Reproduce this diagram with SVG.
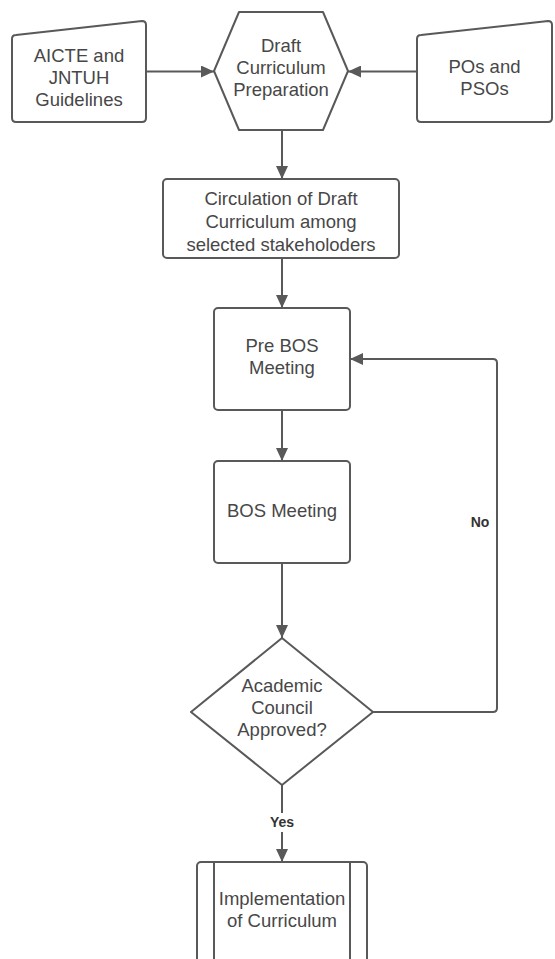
<svg xmlns="http://www.w3.org/2000/svg" width="555" height="959" viewBox="0 0 555 959">
<style>
.n{fill:#fff;stroke:#595959;stroke-width:2;stroke-linejoin:round}
.t{font-family:"Liberation Sans",Arial,sans-serif;font-size:18.5px;fill:#474747;text-anchor:middle}
.l{font-family:"Liberation Sans",Arial,sans-serif;font-size:14px;font-weight:bold;fill:#333;text-anchor:middle}
.c{fill:none;stroke:#595959;stroke-width:2;stroke-linejoin:round}
</style>
<defs>
<marker id="ah" markerUnits="userSpaceOnUse" markerWidth="14" markerHeight="12" refX="13" refY="6" orient="auto">
<path d="M0,0 L13,6 L0,12 Z" fill="#595959"/>
</marker>
</defs>
<rect width="555" height="959" fill="#fff"/>
<g id="connectors">
<path class="c" d="M146,71.5 H214" marker-end="url(#ah)"/>
<path class="c" d="M417,71.5 H348" marker-end="url(#ah)"/>
<path class="c" d="M282,130 V179" marker-end="url(#ah)"/>
<path class="c" d="M282,258 V308" marker-end="url(#ah)"/>
<path class="c" d="M282,410 V461" marker-end="url(#ah)"/>
<path class="c" d="M282,563 V638" marker-end="url(#ah)"/>
<path class="c" d="M373,712 H493 Q497,712 497,708 V363 Q497,359 493,359 H350" marker-end="url(#ah)"/>
<path class="c" d="M282,785 V813"/>
<path class="c" d="M282,832 V862" marker-end="url(#ah)"/>
<text class="l" x="480" y="527">No</text>
<text class="l" x="282" y="827">Yes</text>
</g>
<g id="aicte">
<path class="n" d="M16,35 L142,21 Q146,21 146,25 V118 Q146,122 142,122 H16 Q12,122 12,118 V39 Q12,35 16,35 Z"/>
<text class="t" x="79" y="62">AICTE and</text>
<text class="t" x="79" y="84">JNTUH</text>
<text class="t" x="79" y="106">Guidelines</text>
</g>
<g id="draft">
<path class="n" d="M239,12 H323 L348,71 L323,130 H239 L214,71 Z"/>
<text class="t" x="281" y="52">Draft</text>
<text class="t" x="281" y="74">Curriculum</text>
<text class="t" x="281" y="96">Preparation</text>
</g>
<g id="pos">
<path class="n" d="M421,35 L548,21 Q552,21 552,25 V118 Q552,122 548,122 H421 Q417,122 417,118 V39 Q417,35 421,35 Z"/>
<text class="t" x="484.5" y="73">POs and</text>
<text class="t" x="484.5" y="95">PSOs</text>
</g>
<g id="circulation">
<rect class="n" x="163" y="179" width="236" height="79" rx="4"/>
<text class="t" x="281" y="205">Circulation of Draft</text>
<text class="t" x="281" y="228">Curriculum among</text>
<text class="t" x="281" y="250.5">selected stakeholoders</text>
</g>
<g id="prebos">
<rect class="n" x="214" y="308" width="136" height="102" rx="4"/>
<text class="t" x="282" y="351.5">Pre BOS</text>
<text class="t" x="282" y="374">Meeting</text>
</g>
<g id="bos">
<rect class="n" x="214" y="461" width="136" height="102" rx="4"/>
<text class="t" x="282" y="516.5">BOS Meeting</text>
</g>
<g id="council">
<path class="n" d="M282,638 L373,712 L282,785 L191,712 Z"/>
<text class="t" x="282" y="691.5">Academic</text>
<text class="t" x="282" y="714">Council</text>
<text class="t" x="282" y="736">Approved?</text>
</g>
<g id="implementation">
<rect class="n" x="197" y="862" width="170" height="110" rx="4"/>
<path class="c" d="M214,862 V972 M350,862 V972"/>
<text class="t" x="282" y="905">Implementation</text>
<text class="t" x="282" y="927">of Curriculum</text>
</g>
</svg>
